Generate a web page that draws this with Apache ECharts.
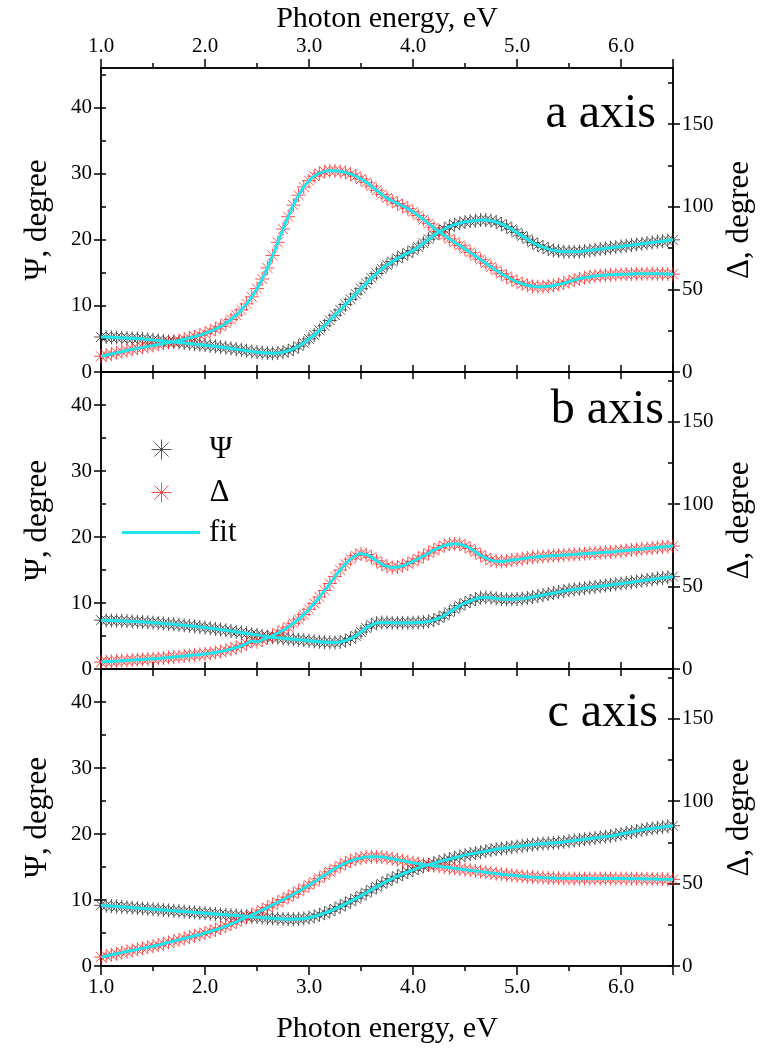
<!DOCTYPE html>
<html><head><meta charset="utf-8">
<script src="https://cdn.jsdelivr.net/npm/echarts@6/dist/echarts.min.js"></script>
<style>html,body{margin:0;padding:0;background:#fff}#c{width:762px;height:1050px}</style>
</head><body><div id="c"></div>
<script>
// Photon energy sampling: 1.00 .. 6.50 eV in 0.05 eV steps (111 points)
const energy = Array.from({length:111},(_,i)=>+(1+0.05*i).toFixed(2));

// a axis
const psiA = [
5.3,5.28,5.25,5.22,5.18,5.14,5.1,5.05,5.0,4.93,
4.85,4.78,4.7,4.62,4.54,4.46,4.38,4.3,4.22,4.14,
4.06,3.97,3.88,3.78,3.68,3.57,3.46,3.35,3.22,3.1,
3.0,2.92,2.86,2.84,2.88,3.0,3.2,3.5,3.9,4.4,
5.0,5.6,6.3,7.0,7.8,8.6,9.4,10.2,11.0,11.8,
12.6,13.4,14.2,14.9,15.6,16.2,16.7,17.2,17.6,18.0,
18.4,18.9,19.5,20.1,20.7,21.2,21.6,22.0,22.3,22.5,
22.7,22.8,22.9,23.0,23.0,22.9,22.7,22.4,22.0,21.6,
21.1,20.6,20.1,19.6,19.2,18.9,18.6,18.4,18.3,18.2,
18.2,18.2,18.2,18.3,18.4,18.5,18.6,18.7,18.8,18.9,
19.0,19.1,19.2,19.3,19.4,19.5,19.6,19.7,19.8,19.9,
20.0];
const deltaA = [
9.5,10.2,10.9,11.6,12.3,13.0,13.7,14.3,14.9,15.5,
16.1,16.7,17.3,17.9,18.5,19.1,19.8,20.6,21.4,22.3,
23.4,24.6,26.0,27.6,29.5,31.8,34.5,37.6,41.2,45.5,
50.5,56.3,63.0,70.5,78.5,86.5,94.0,101.0,107.0,112.0,
115.8,118.5,120.3,121.3,121.8,121.8,121.4,120.8,119.8,118.5,
116.8,114.8,112.5,110.0,107.5,105.3,103.5,102.0,100.5,98.9,
97.0,94.7,92.2,89.8,87.3,85.0,82.8,80.6,78.6,76.6,
74.5,72.4,70.2,68.0,65.8,63.6,61.5,59.5,57.7,56.0,
54.6,53.4,52.5,51.9,51.6,51.6,51.9,52.4,53.0,53.8,
54.7,55.6,56.4,57.1,57.7,58.1,58.4,58.6,58.8,59.0,
59.1,59.2,59.3,59.4,59.4,59.5,59.5,59.4,59.4,59.3,
59.2];

// b axis
const psiB = [
7.4,7.38,7.35,7.32,7.29,7.25,7.21,7.17,7.12,7.07,
7.02,6.96,6.9,6.84,6.77,6.7,6.62,6.54,6.46,6.37,
6.28,6.18,6.08,5.97,5.86,5.75,5.63,5.51,5.39,5.27,
5.15,5.03,4.92,4.82,4.73,4.65,4.57,4.5,4.43,4.36,
4.28,4.2,4.12,4.06,4.02,4.02,4.1,4.3,4.6,5.0,
5.6,6.2,6.7,6.95,7.05,7.05,7.0,6.98,6.98,7.0,
7.02,7.05,7.1,7.2,7.4,7.7,8.1,8.6,9.1,9.6,
10.0,10.3,10.6,10.8,10.85,10.8,10.7,10.6,10.55,10.55,
10.6,10.65,10.75,10.9,11.05,11.2,11.35,11.5,11.65,11.8,
11.95,12.05,12.15,12.25,12.35,12.45,12.55,12.65,12.75,12.85,
12.95,13.05,13.15,13.25,13.4,13.5,13.6,13.7,13.8,13.9,
14.0];
const deltaB = [
4.2,4.4,4.6,4.8,5.0,5.2,5.4,5.6,5.8,6.0,
6.2,6.4,6.7,7.0,7.3,7.6,7.9,8.2,8.5,8.8,
9.1,9.5,10.0,10.6,11.3,12.1,13.0,14.1,15.4,16.9,
16.5,17.6,18.9,20.3,21.8,23.5,25.5,27.7,30.2,33.0,
36.2,39.8,43.6,47.6,51.8,56.0,60.0,63.6,66.6,68.8,
69.8,69.4,67.8,65.6,63.6,62.2,61.6,61.8,62.6,63.8,
65.2,66.8,68.5,70.3,72.0,73.5,74.8,75.6,75.9,75.6,
74.6,73.0,71.0,69.0,67.3,66.0,65.3,65.2,65.5,66.0,
66.3,66.8,67.3,67.7,68.0,68.3,68.5,68.7,68.9,69.1,
69.3,69.5,69.7,69.9,70.1,70.3,70.5,70.7,70.9,71.2,
71.5,71.8,72.1,72.4,72.7,73.0,73.3,73.6,73.9,74.2,
74.5];

// c axis
const psiC = [
9.2,9.14,9.08,9.02,8.96,8.9,8.84,8.78,8.72,8.66,
8.6,8.54,8.48,8.42,8.36,8.3,8.24,8.18,8.12,8.06,
8.0,7.94,7.88,7.82,7.76,7.7,7.64,7.58,7.52,7.46,
7.4,7.34,7.28,7.22,7.17,7.13,7.1,7.1,7.13,7.2,
7.32,7.5,7.75,8.0,8.3,8.65,9.0,9.4,9.8,10.2,
10.65,11.1,11.55,12.0,12.45,12.85,13.25,13.6,13.95,14.25,
14.55,14.85,15.1,15.35,15.6,15.8,16.0,16.2,16.4,16.6,
16.8,16.95,17.1,17.25,17.4,17.55,17.7,17.8,17.9,18.0,
18.1,18.2,18.3,18.4,18.5,18.55,18.6,18.65,18.7,18.8,
18.9,19.0,19.1,19.2,19.3,19.4,19.5,19.6,19.7,19.85,
20.0,20.15,20.3,20.45,20.6,20.75,20.85,20.95,21.05,21.15,
21.25];
const deltaC = [
5.4,6.1,6.8,7.4,8.1,8.8,9.4,10.1,10.7,11.4,
12.0,12.7,13.5,14.3,15.1,15.9,16.7,17.5,18.3,19.1,
20.0,20.9,21.9,23.0,24.2,25.5,26.8,28.2,29.6,31.0,
32.4,33.9,35.4,37.0,38.6,40.2,41.8,43.5,45.3,47.1,
49.0,51.0,53.0,55.1,57.1,59.0,60.8,62.4,63.7,64.7,
65.5,66.0,66.2,66.2,66.0,65.6,65.0,64.4,63.8,63.2,
62.6,62.1,61.6,61.2,60.8,60.4,60.0,59.6,59.2,58.8,
58.4,58.0,57.6,57.2,56.8,56.4,56.0,55.6,55.3,55.0,
54.7,54.4,54.1,53.9,53.7,53.5,53.4,53.3,53.2,53.1,
53.0,53.0,53.0,53.0,53.0,53.0,53.0,53.0,53.0,53.0,
53.0,52.95,52.9,52.9,52.85,52.8,52.75,52.7,52.6,52.5,
52.4];

const panelLabels = ['a axis','b axis','c axis'];
const xLabelTicks = [1,2,3,4,5,6];
const xMajorTicks = [1,2,3,4,5,6,6.5];
const xMinorTicks = [1.5,2.5,3.5,4.5,5.5];
const xAllTicks = [1,1.5,2,2.5,3,3.5,4,4.5,5,5.5,6,6.5];
const psiLabelTicks = [0,10,20,30,40];
const psiInnerTicks = [0,5,10,15,20,25,30,35,40,45];
const deltaLabelTicks = [0,50,100,150];
const deltaInnerTicks = [0,25,50,75,100,125,150,175];
const xTitle = 'Photon energy, eV';
const psiTitle = 'Ψ, degree';
const deltaTitle = 'Δ, degree';

const panels = [[psiA,deltaA],[psiB,deltaB],[psiC,deltaC]];

const FONT = 'Liberation Serif';
const BLACK = '#000';
const CYAN = '#1fe6ee';
const STAR = 'path://M10,0L10,20M0,10L20,10M2.93,2.93L17.07,17.07M2.93,17.07L17.07,2.93';
const gridBoxes = [{top:68,height:304},{top:372,height:297},{top:669,height:297}];
const psiMax = [46,45,45];
const titleBoxes = [{right:106,top:90},{right:98,top:386},{right:104,top:689}];
const axLine = {color:BLACK,width:1.5};

const option = {animation:false, backgroundColor:'#fff', grid:[], xAxis:[], yAxis:[], series:[], title:[], legend:[]};

function xAx(k,pos,ticks,len,inside,showLabel,name,gap){
  return {type:'value',gridIndex:k,position:pos,min:1,max:6.5,interval:0.5,
    axisLine:{show:true,onZero:false,lineStyle:axLine},
    axisTick:{show:true,customValues:ticks,length:len,inside:inside,lineStyle:axLine},
    axisLabel:showLabel?{show:true,customValues:xLabelTicks,formatter:v=>Number(v).toFixed(1),fontFamily:FONT,fontSize:21,color:BLACK,margin:11}:{show:false},
    splitLine:{show:false},
    name:name||'',nameLocation:'middle',nameGap:gap||0,
    nameTextStyle:{fontFamily:FONT,fontSize:30,color:BLACK}};
}
function yAx(k,pos,max,interval,ticks,len,inside,labels,name,gap){
  return {type:'value',gridIndex:k,position:pos,min:0,max:max,interval:interval,
    axisLine:{show:true,onZero:false,lineStyle:axLine},
    axisTick:{show:true,customValues:ticks,length:len,inside:inside,lineStyle:axLine},
    axisLabel:labels?{show:true,customValues:labels,fontFamily:FONT,fontSize:21,color:BLACK,margin:9}:{show:false},
    splitLine:{show:false},
    name:name||'',nameLocation:'middle',nameGap:gap||0,nameRotate:90,
    nameTextStyle:{fontFamily:FONT,fontSize:31,color:BLACK}};
}

panels.forEach((p,k)=>{
  option.grid.push({left:101,width:572,top:gridBoxes[k].top,height:gridBoxes[k].height,containLabel:false,outerBoundsMode:'none'});
  const first = k===0, last = k===2;
  if(first){
    option.xAxis.push(xAx(k,'top',xMajorTicks,9,false,true,xTitle,34));
    option.xAxis.push(xAx(k,'top',xMinorTicks,5,false,false));
  } else {
    option.xAxis.push(xAx(k,'top',xAllTicks,7,true,false));
    option.xAxis.push(xAx(k,'top',[],0,true,false));
  }
  if(last){
    option.xAxis.push(xAx(k,'bottom',xMajorTicks,9,false,true,xTitle,48));
    option.xAxis.push(xAx(k,'bottom',xMinorTicks,5,false,false));
  } else {
    option.xAxis.push(xAx(k,'bottom',xAllTicks,7,true,false));
    option.xAxis.push(xAx(k,'bottom',[],0,true,false));
  }
  const pm = psiMax[k], dm = psiMax[k]*4;
  option.yAxis.push(yAx(k,'left',pm,5,psiLabelTicks,7,false,psiLabelTicks,psiTitle,48));
  option.yAxis.push(yAx(k,'left',pm,5,psiInnerTicks,5,true,null));
  option.yAxis.push(yAx(k,'right',dm,25,deltaLabelTicks,7,false,deltaLabelTicks,deltaTitle,48));
  option.yAxis.push(yAx(k,'right',dm,25,deltaInnerTicks,5,true,null));

  const psiData = energy.map((e,i)=>[e,p[0][i]]);
  const deltaData = energy.map((e,i)=>[e,p[1][i]]);
  const xi = 4*k+2;
  option.series.push({name:'Ψ',type:'scatter',xAxisIndex:xi,yAxisIndex:4*k,data:psiData,
    symbol:STAR,symbolSize:14,itemStyle:{color:'rgba(0,0,0,0)',borderColor:'#2a2a2a',borderWidth:1,opacity:0.8},z:2});
  option.series.push({name:'Δ',type:'scatter',xAxisIndex:xi,yAxisIndex:4*k+2,data:deltaData,
    symbol:STAR,symbolSize:14,itemStyle:{color:'rgba(0,0,0,0)',borderColor:'#ff2020',borderWidth:1,opacity:0.8},z:2});
  option.series.push({name:'fit',type:'line',xAxisIndex:xi,yAxisIndex:4*k,data:psiData,
    showSymbol:false,smooth:true,lineStyle:{color:CYAN,width:3},itemStyle:{color:CYAN},z:3});
  option.series.push({name:'fit',type:'line',xAxisIndex:xi,yAxisIndex:4*k+2,data:deltaData,
    showSymbol:false,smooth:true,lineStyle:{color:CYAN,width:3},itemStyle:{color:CYAN},z:3});

  option.title.push({text:panelLabels[k],right:titleBoxes[k].right,top:titleBoxes[k].top,padding:0,
    textStyle:{fontFamily:FONT,fontSize:48,fontWeight:'normal',color:BLACK}});
});

const legText = {fontFamily:FONT,fontSize:31,color:BLACK};
option.legend.push({data:[{name:'Ψ',icon:STAR,itemStyle:{color:'rgba(0,0,0,0)',borderColor:'#2a2a2a',borderWidth:1}}],
  left:151,top:434,itemWidth:20,itemHeight:20,padding:0,selectedMode:false,textStyle:Object.assign({padding:[0,0,0,33]},legText)});
option.legend.push({data:[{name:'Δ',icon:STAR,itemStyle:{color:'rgba(0,0,0,0)',borderColor:'#ff2020',borderWidth:1}}],
  left:151,top:477,itemWidth:20,itemHeight:20,padding:0,selectedMode:false,textStyle:Object.assign({padding:[0,0,0,33]},legText)});
option.legend.push({data:[{name:'fit',icon:'rect',itemStyle:{color:CYAN}}],
  left:122,top:517,itemWidth:78,itemHeight:3,padding:0,selectedMode:false,textStyle:Object.assign({padding:[0,0,0,4]},legText)});

const chart = echarts.init(document.getElementById('c'),null,{renderer:'canvas'});
chart.setOption(option);
</script></body></html>
